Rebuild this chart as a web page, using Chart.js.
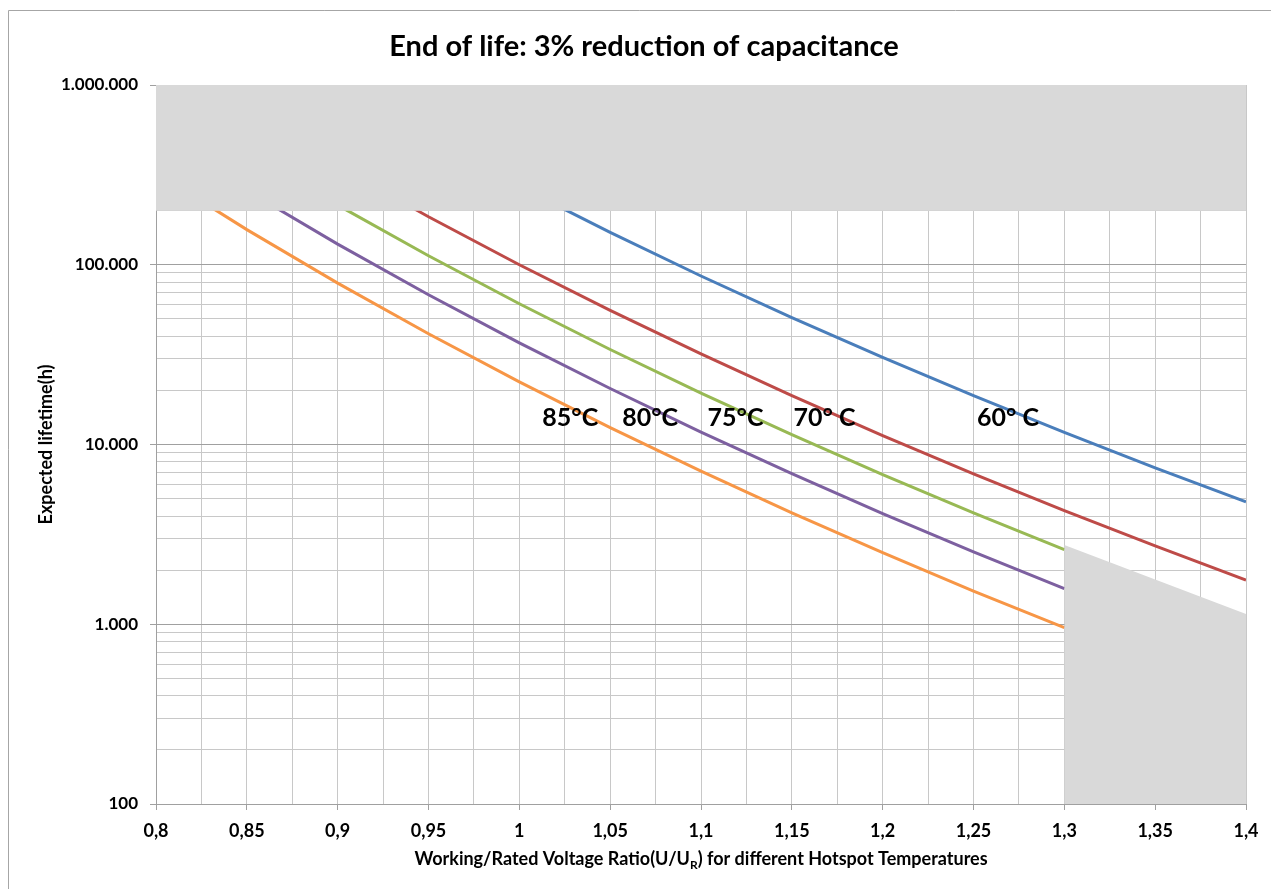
<!DOCTYPE html>
<html>
<head>
<meta charset="utf-8">
<title>End of life: 3% reduction of capacitance</title>
<script src="https://cdn.jsdelivr.net/npm/chart.js@4.4.1/dist/chart.umd.min.js"></script>
<style>
  html, body { margin: 0; padding: 0; background: #fff; }
  canvas { display: block; }
</style>
</head>
<body>
<canvas id="lifeChart" width="1271" height="889"></canvas>
<script>
// Voltage ratio U/UR (x) and expected lifetime in hours per hotspot temperature
const xValues = [0.8, 0.85, 0.9, 0.95, 1, 1.05, 1.1, 1.15, 1.2, 1.25, 1.3, 1.35, 1.4];
const xTickLabels = ['0,8', '0,85', '0,9', '0,95', '1', '1,05', '1,1', '1,15', '1,2', '1,25', '1,3', '1,35', '1,4'];

const life60 = [3955000, 1911000, 962000, 503000, 271800, 151300, 86600, 50800, 30500, 18700, 11670, 7420, 4800];
const life70 = [1455000, 703000, 354000, 185000, 100000, 55700, 31900, 18700, 11200, 6870, 4290, 2730, 1760];
const life75 = [882600, 426300, 214700, 112300, 60650, 33770, 19330, 11340, 6800, 4170, 2600];
const life80 = [535400, 258600, 130300, 68100, 36790, 20490, 11720, 6880, 4130, 2530, 1580];
const life85 = [324700, 156800, 79000, 41300, 22310, 12420, 7110, 4170, 2500, 1530, 958];

// grey "not allowed" zones
const bandX = [0.8, 1.4];
const bandLow = [200000, 200000];
const bandHigh = 1000000;
const zoneX = [1.3, 1.4];
const zoneTop = [2760, 1140];

// y axis decades and their labels
const yMajor = [100, 1000, 10000, 100000, 1000000];
const yTickLabels = ['100', '1.000', '10.000', '100.000', '1.000.000'];

// curve labels drawn inside the plot
const tempLabels = ['85°C', '80°C', '75°C', '70° C', '60° C'];
const tempLabelX = [1.028, 1.072, 1.119, 1.168, 1.269];
const tempLabelY = 12750;

const toPoints = (xs, ys) => ys.map((y, i) => ({ x: xs[i], y: y }));
const isDecade = v => Math.abs(Math.log10(v) - Math.round(Math.log10(v))) < 1e-9;

Chart.defaults.font.family = 'Lato, "Open Sans", sans-serif';
Chart.defaults.color = '#000';

const lineSet = (label, data, color) => ({
    label: label,
    data: toPoints(xValues, data),
    borderColor: color,
    backgroundColor: color,
    borderWidth: 3,
    pointRadius: 0,
    tension: 0,
    fill: false,
    order: 1
});

const decor = {
    id: 'decor',
    beforeDraw(chart) {
        const c = chart.ctx;
        c.save();
        c.fillStyle = '#fff';
        c.fillRect(0, 0, chart.width, chart.height);
        c.strokeStyle = '#a6a6a6';
        c.lineWidth = 1;
        c.beginPath();
        c.moveTo(8.5, chart.height);
        c.lineTo(8.5, 10.5);
        c.lineTo(chart.width, 10.5);
        c.stroke();
        c.restore();
    },
    afterDraw(chart) {
        const c = chart.ctx;
        const xs = chart.scales.x, ys = chart.scales.y;
        const area = chart.chartArea;
        c.save();
        c.fillStyle = '#000';

        // title
        c.font = 'bold 29px Lato';
        c.textAlign = 'center';
        c.textBaseline = 'alphabetic';
        c.fillText('End of life: 3% reduction of capacitance', 644, 56);

        // curve labels
        c.font = 'bold 25px Lato';
        tempLabels.forEach((t, i) => {
            c.fillText(t, xs.getPixelForValue(tempLabelX[i]), ys.getPixelForValue(tempLabelY));
        });

        // y axis title
        c.font = 'bold 18px Lato';
        c.save();
        c.translate(52, (area.top + area.bottom) / 2);
        c.rotate(-Math.PI / 2);
        c.fillText('Expected lifetime(h)', 0, 0);
        c.restore();

        // x axis title with subscript R
        const parts = [
            ['Working/Rated Voltage Ratio(U/U', 'bold 18px Lato', 0],
            ['R', 'bold 12px Lato', 4],
            [') for different Hotspot Temperatures', 'bold 18px Lato', 0]
        ];
        let total = 0;
        parts.forEach(p => { c.font = p[1]; total += c.measureText(p[0]).width; });
        let px = (area.left + area.right) / 2 - total / 2;
        c.textAlign = 'left';
        parts.forEach(p => {
            c.font = p[1];
            c.fillText(p[0], px, 865 + p[2]);
            px += c.measureText(p[0]).width;
        });
        c.restore();
    }
};

new Chart(document.getElementById('lifeChart'), {
    type: 'line',
    data: {
        datasets: [
            {
                label: 'zone top',
                data: toPoints(bandX, bandLow),
                borderWidth: 0,
                pointRadius: 0,
                backgroundColor: '#d9d9d9',
                fill: { value: bandHigh },
                order: 0
            },
            {
                label: 'zone right',
                data: toPoints(zoneX, zoneTop),
                borderWidth: 0,
                pointRadius: 0,
                backgroundColor: '#d9d9d9',
                fill: 'start',
                order: 0
            },
            lineSet('60° C', life60, '#4a7ebb'),
            lineSet('70° C', life70, '#be4b48'),
            lineSet('75°C', life75, '#98b954'),
            lineSet('80°C', life80, '#7d60a0'),
            lineSet('85°C', life85, '#f79646')
        ]
    },
    options: {
        responsive: false,
        animation: false,
        devicePixelRatio: 1,
        layout: { padding: { left: 8, top: 85, right: 25, bottom: 0 } },
        plugins: {
            legend: { display: false },
            tooltip: { enabled: false },
            title: { display: false }
        },
        scales: {
            x: {
                type: 'linear',
                min: 0.8,
                max: 1.4,
                afterBuildTicks: scale => {
                    const ticks = [];
                    for (let i = 0; i <= 24; i++) ticks.push({ value: Math.round((0.8 + i * 0.025) * 1000) / 1000 });
                    scale.ticks = ticks;
                },
                afterFit: scale => { scale.height = 85; },
                ticks: {
                    autoSkip: false,
                    maxRotation: 0,
                    padding: 10,
                    font: { size: 18, weight: 'bold' },
                    callback: value => {
                        const i = xValues.findIndex(v => Math.abs(v - value) < 1e-6);
                        return i >= 0 ? xTickLabels[i] : '';
                    }
                },
                grid: {
                    color: '#c8c8c8',
                    tickLength: 6,
                    tickColor: ctx => (ctx.tick && xValues.some(v => Math.abs(v - ctx.tick.value) < 1e-6)) ? '#a0a0a0' : 'rgba(0,0,0,0)'
                },
                border: { color: '#a0a0a0' }
            },
            y: {
                type: 'logarithmic',
                min: 100,
                max: 1000000,
                afterBuildTicks: scale => {
                    const ticks = [];
                    yMajor.forEach((d, i) => {
                        if (i === yMajor.length - 1) { ticks.push({ value: d }); return; }
                        for (let k = 1; k <= 9; k++) ticks.push({ value: d * k });
                    });
                    scale.ticks = ticks;
                },
                afterFit: scale => { scale.width = 148; },
                ticks: {
                    autoSkip: false,
                    padding: 12,
                    font: { size: 17, weight: 'bold' },
                    callback: value => {
                        const i = yMajor.findIndex(v => Math.abs(v - value) < 1e-6);
                        return i >= 0 ? yTickLabels[i] : '';
                    }
                },
                grid: {
                    color: ctx => (ctx.tick && isDecade(ctx.tick.value)) ? '#a0a0a0' : '#c8c8c8',
                    tickLength: 6,
                    tickColor: ctx => (ctx.tick && isDecade(ctx.tick.value)) ? '#a0a0a0' : 'rgba(0,0,0,0)'
                },
                border: { color: '#a0a0a0' }
            }
        }
    },
    plugins: [decor]
});
</script>
</body>
</html>
